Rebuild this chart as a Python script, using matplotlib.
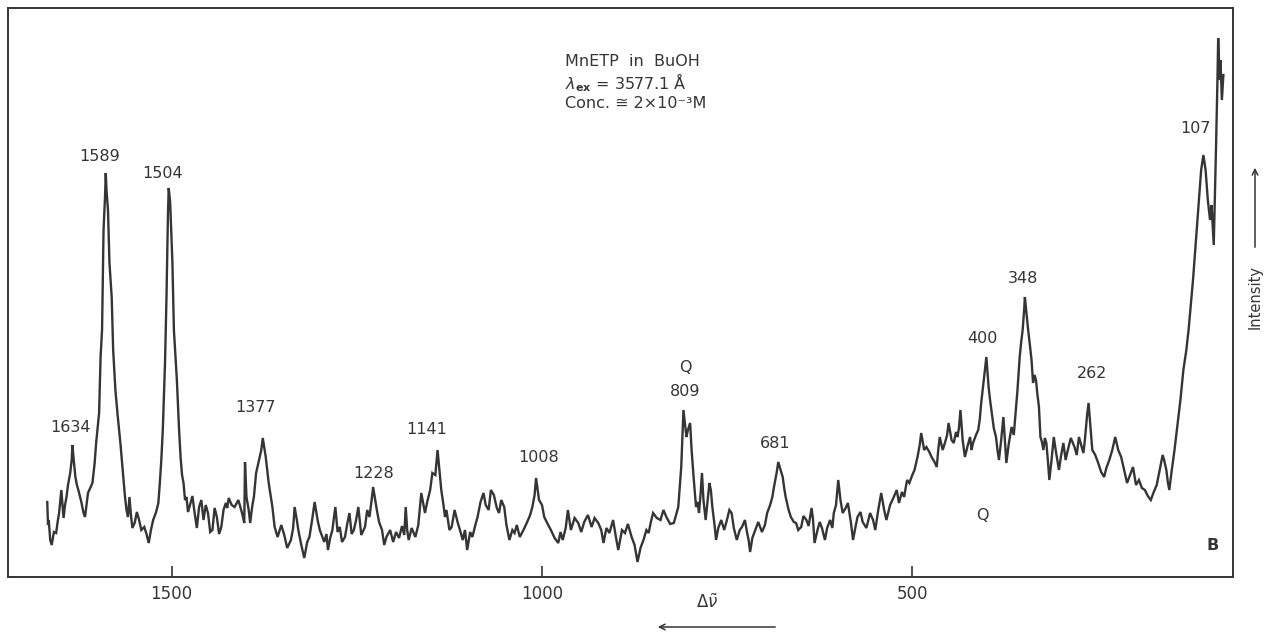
import matplotlib
matplotlib.use("Agg")
import matplotlib.pyplot as plt

# Raman shift (cm^-1) of the recorded trace
shift = [
    1668, 1667, 1666, 1664, 1662, 1659, 1656, 1654, 1652, 1649, 1646, 1644, 1642, 1640, 1637, 1635, 1634,
    1632, 1630, 1628, 1626, 1622, 1619, 1617, 1615, 1613, 1610, 1607, 1604, 1602, 1598, 1596, 1594, 1592, 1590, 1589,
    1588, 1586, 1584, 1581, 1579, 1576, 1573, 1571, 1569, 1567, 1565, 1563, 1561, 1559, 1557, 1555, 1553, 1550,
    1547, 1544, 1541, 1537, 1534, 1531, 1528, 1525, 1521, 1518, 1516, 1514, 1512, 1509, 1507, 1505, 1504,
    1502, 1499, 1497, 1495, 1493, 1490, 1488, 1486, 1484, 1482,
    1480, 1478, 1476, 1472, 1469, 1466, 1463, 1460, 1457, 1454, 1451, 1448, 1445, 1442, 1439, 1436, 1433, 1430,
    1427, 1425, 1423, 1419, 1415, 1410, 1405, 1402, 1401, 1399, 1396, 1394, 1391, 1389, 1386, 1382, 1379, 1377,
    1373, 1369, 1364, 1361, 1357, 1352, 1348, 1344, 1339, 1336, 1334, 1331, 1329, 1325, 1321, 1317, 1314, 1310,
    1307, 1303, 1300, 1297, 1294, 1291, 1289, 1286, 1283, 1281, 1279, 1276, 1273, 1270, 1266, 1263, 1260, 1257,
    1254, 1251, 1248, 1244, 1239, 1236, 1233, 1230, 1228,
    1223, 1220, 1216, 1213, 1210, 1205, 1201, 1197, 1193, 1189, 1186, 1184, 1182, 1180, 1176, 1171, 1167, 1163,
    1160, 1158, 1155, 1151, 1148, 1144, 1141,
    1136, 1133, 1131, 1129, 1125, 1122, 1118, 1114, 1110, 1107, 1104, 1101, 1097, 1094, 1090, 1087, 1083, 1079,
    1076, 1072, 1069, 1065, 1061, 1058, 1055, 1051, 1048, 1044, 1040, 1037, 1034, 1030, 1025, 1020, 1016, 1013,
    1010, 1008,
    1004, 1000, 997, 993, 988, 983, 978, 975, 972, 968, 965, 963, 961, 956, 951, 947, 943, 938, 933, 929,
    924, 920, 917, 913, 909, 904, 900, 897, 892, 888, 884, 879, 875, 871, 867, 863, 859, 856, 853, 850,
    845, 840, 836, 832, 827, 822, 819, 816, 812, 809,
    805, 803, 800, 798, 795, 792, 790, 788, 786, 784, 782, 779, 777, 774, 772, 770, 767, 765, 762, 758,
    754, 751, 747, 744, 741, 737, 733, 730, 726, 723, 721, 719, 716, 712, 708, 703, 699, 696, 692, 689,
    687, 685, 683, 681,
    675, 673, 671, 667, 664, 660, 657, 654, 650, 647, 643, 640, 636, 634, 632, 628, 625, 622, 618, 615,
    611, 608, 606, 603, 600, 597, 594, 590, 587, 583, 580, 577, 574, 570, 567, 562, 557, 553, 550, 546,
    542, 538, 535, 530, 525, 521, 518, 514, 511, 509, 507, 504, 500, 497, 493, 490, 488, 484, 481, 477,
    474, 470, 467, 465, 463, 459, 456, 453, 451, 447, 444, 441, 439, 437, 435, 432, 429, 425, 422, 420,
    418, 414, 411, 409, 407, 404, 402, 400,
    397, 395, 392, 390, 387, 385, 383, 380, 377, 375, 373, 370, 366, 363, 361, 358, 355, 353, 351, 349, 348,
    344, 342, 339, 337, 335, 333, 331, 329, 327, 325, 323, 321, 319, 317, 315, 312, 309, 306, 302, 299,
    296, 293, 290, 286, 281, 278, 275, 272, 269, 267, 265, 264, 262,
    257, 253, 249, 245, 241, 238, 234, 230, 226, 222, 218, 214, 210, 206, 202, 198, 194, 190, 186, 182,
    178, 174, 170, 166, 162, 160, 157, 155, 153, 150, 146, 142, 138, 134, 130, 127, 124, 121, 118, 115,
    112, 110, 107,
    104, 101, 98, 96, 93, 90, 88, 87, 85, 84, 82, 80]

# Recorded intensity (arbitrary units), one value per shift above
intensity = [
    98, 75, 80, 60, 55, 68, 67, 78, 87, 110, 82, 95, 103, 115, 127, 140, 155,
    138, 123, 115, 110, 98, 87, 83, 95, 107, 112, 117, 137, 157, 187, 243, 270, 370, 403, 427,
    410, 390, 337, 303, 250, 210, 185, 170, 155, 137, 120, 103, 90, 83, 103, 85, 72, 77,
    88, 80, 70, 73, 66, 57, 70, 80, 88, 97, 117, 140, 170, 237, 303, 387, 412,
    397, 337, 270, 245, 220, 170, 143, 125, 117, 100,
    103, 88, 93, 104, 87, 72, 93, 100, 80, 95, 87, 68, 70, 92, 83, 66, 73, 90,
    97, 92, 102, 95, 93, 100, 87, 77, 138, 103, 90, 77, 95, 103, 127, 140, 150, 162,
    143, 117, 93, 73, 63, 75, 65, 52, 60, 72, 93, 80, 70, 55, 42, 58, 63, 82,
    98, 80, 70, 64, 58, 66, 50, 62, 70, 82, 93, 68, 73, 58, 63, 76, 87, 66,
    70, 80, 93, 65, 73, 90, 83, 100, 113,
    90, 78, 70, 55, 63, 70, 58, 68, 62, 74, 65, 93, 70, 60, 72, 63, 75, 107,
    95, 87, 98, 110, 127, 125, 150,
    110, 95, 83, 90, 70, 73, 90, 78, 68, 60, 70, 50, 68, 63, 75, 83, 98, 107,
    95, 90, 110, 105, 92, 87, 100, 93, 75, 60, 70, 67, 75, 63, 70, 78, 85, 93,
    105, 122,
    100, 95, 83, 77, 70, 62, 57, 68, 60, 72, 90, 80, 70, 82, 77, 68, 78, 85, 73, 82,
    77, 70, 57, 72, 67, 80, 62, 50, 70, 67, 76, 63, 55, 38, 52, 60, 70, 67, 78, 87,
    82, 80, 90, 83, 76, 77, 85, 93, 133, 190,
    163, 170, 177, 150, 120, 93, 98, 87, 105, 127, 100, 80, 95, 117, 110, 93, 75, 60, 72, 80,
    70, 78, 90, 87, 72, 60, 70, 73, 80, 67, 60, 48, 62, 70, 78, 68, 75, 87, 95, 103,
    112, 120, 128, 138,
    123, 112, 103, 90, 83, 78, 77, 70, 73, 84, 80, 74, 92, 80, 57, 70, 78, 72, 60, 72,
    80, 72, 87, 95, 120, 100, 87, 92, 97, 78, 60, 72, 83, 88, 78, 72, 87, 80, 70, 90,
    107, 90, 80, 95, 103, 110, 97, 108, 103, 112, 120, 117, 125, 130, 143, 155, 167, 150, 153, 148,
    143, 138, 133, 150, 163, 150, 157, 165, 177, 160, 157, 168, 163, 172, 190, 160, 143, 155, 163, 150,
    157, 165, 170, 180, 197, 217, 230, 243,
    213, 200, 183, 172, 163, 150, 140, 160, 183, 160, 137, 155, 173, 165, 183, 210, 243, 258, 270, 290, 303,
    273, 260, 240, 217, 225, 220, 205, 193, 163, 158, 150, 162, 157, 140, 120, 140, 163, 148, 130, 145,
    157, 140, 150, 162, 153, 145, 163, 155, 147, 160, 177, 185, 197,
    150, 145, 137, 128, 123, 132, 140, 150, 163, 150, 143, 130, 117, 125, 133, 115, 120, 112, 110, 104,
    100, 108, 115, 130, 145, 140, 130, 118, 110, 128, 150, 175, 200, 230, 250, 270, 295, 320, 350, 380,
    410, 430, 445,
    430, 400, 380, 395, 355, 450, 520, 562, 520, 540, 500, 525]

# Assigned band positions (cm^-1)
peak_labels = [1634, 1589, 1504, 1377, 1228, 1141, 1008, 809, 681, 400, 348, 262, 107]
# Offsets of each band label from its maximum, in pixels
label_offsets = [(-2, 17), (-6, 17), (-6, 15), (-7, 30), (0, 14), (-11, 20), (3, 21),
                 (2, 19), (-3, 19), (-4, 19), (-2, 19), (3, 30), (-8, 27)]

x_ticks = [1500, 1000, 500]

INK = "#353535"
W, H = 1269, 633

fig = plt.figure(figsize=(W / 100, H / 100), dpi=100)
fig.patch.set_facecolor("white")
ax = fig.add_axes([8 / W, 1 - 577 / H, (1233 - 8) / W, (577 - 8) / H])

ax.plot(shift, intensity, color=INK, lw=1.7, solid_joinstyle="miter")

ax.set_xlim(1721, 67)
ax.set_ylim(23, 592)
ax.set_yticks([])
ax.set_xticks(x_ticks)
ax.set_xticklabels([str(t) for t in x_ticks])
ax.tick_params(axis="x", direction="in", length=8, width=1.2, pad=6,
               labelsize=12, colors=INK)
for sp in ax.spines.values():
    sp.set_color(INK)
    sp.set_linewidth(1.4)

# Band labels drawn from the band maxima
for p, (dx, dy) in zip(peak_labels, label_offsets):
    y = intensity[shift.index(p)]
    ax.annotate(str(p), xy=(p, y), xytext=(dx, dy), textcoords="offset pixels",
                ha="center", va="center", fontsize=11.5, color=INK)

# Polarisation marks
ax.annotate("Q", xy=(809, intensity[shift.index(809)]), xytext=(2, 42),
            textcoords="offset pixels", ha="center", va="center",
            fontsize=11.5, color=INK)
ax.text(405, 85, "Q", ha="center", va="center", fontsize=11.5, color=INK)
ax.text(0.988, 0.055, "B", transform=ax.transAxes, ha="right", va="center",
        fontsize=11.5, color=INK, fontweight="bold")

# Sample conditions
fig.text(565 / W, 1 - 62 / H, "MnETP  in  BuOH", ha="left", va="center",
         fontsize=11.5, color=INK)
fig.text(565 / W, 1 - 83 / H, r"$\lambda_{\mathbf{ex}}$ = 3577.1 Å", ha="left",
         va="center", fontsize=11.5, color=INK)
fig.text(565 / W, 1 - 103 / H, "Conc. ≅ 2×10⁻³M", ha="left", va="center",
         fontsize=11.5, color=INK)

# Intensity axis caption with arrow
fig.text(1255 / W, 1 - 297 / H, "Intensity", rotation=90, ha="center",
         va="center", fontsize=10.5, color=INK)
ax.annotate("", xy=(1255, H - 165), xycoords="figure pixels",
            xytext=(1255, H - 250), textcoords="figure pixels",
            arrowprops=dict(arrowstyle="->", color=INK, lw=1.1))

# Raman shift caption with arrow
fig.text(707 / W, 1 - 603 / H, r"$\Delta\tilde{\nu}$", ha="center", va="center",
         fontsize=12, color=INK)
ax.annotate("", xy=(655, H - 627), xycoords="figure pixels",
            xytext=(778, H - 627), textcoords="figure pixels",
            arrowprops=dict(arrowstyle="->", color=INK, lw=1.1))

fig.savefig("out.png", dpi=100, facecolor="white")
